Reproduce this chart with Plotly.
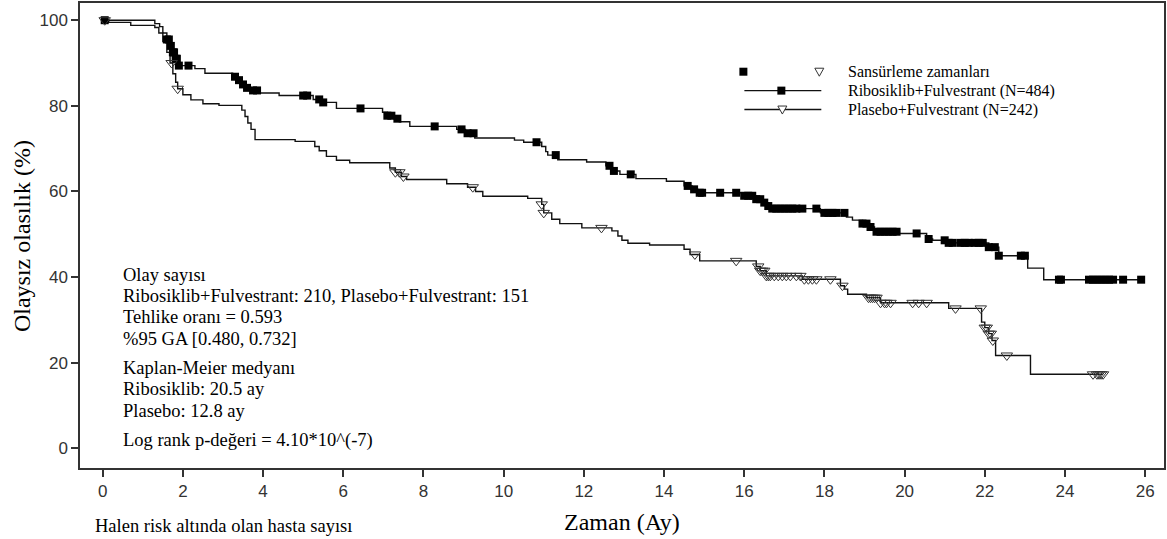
import numpy as np
import plotly.graph_objects as go

# ---------------- data ----------------
ribo_t = [0, 1.3, 1.42, 1.5, 1.6, 1.68, 1.75, 1.82, 1.87, 2.3, 2.55, 3.24, 3.35, 3.45, 3.55,
          3.7, 3.87, 4.4, 5.25, 5.45, 5.83, 6.98, 7.1, 7.25, 7.4, 7.66, 8.83, 9.05, 9.28,
          10.27, 10.5, 10.95, 11.05, 11.1, 11.35, 12.07, 12.55, 12.7, 12.9, 13.3, 14.06,
          14.5, 14.7, 14.85, 15.95, 16.3, 16.45, 16.6, 16.7, 17.9, 18.55, 18.7, 18.95,
          19.1, 19.25, 19.87, 20.55, 20.7, 21.1, 22.1, 22.35, 23.07, 23.47, 25.98]
ribo_s = [100, 99.2, 98.5, 97.0, 95.5, 94.0, 92.5, 91.0, 89.4, 88.7, 87.6, 86.8, 86.0, 85.0, 84.2,
          83.6, 83.0, 82.4, 81.5, 80.8, 79.4, 78.5, 77.7, 77.0, 76.3, 75.2, 74.5, 73.6, 72.5,
          72.0, 71.5, 70.5, 69.3, 68.5, 67.4, 66.9, 66.0, 64.8, 64.0, 63.0, 62.4,
          61.3, 60.5, 59.7, 59.0, 58.2, 57.4, 56.6, 56.0, 55.0, 54.0, 53.3, 52.5,
          51.7, 50.6, 50.2, 48.9, 48.6, 48.0, 47.0, 45.0, 42.1, 39.4, 39.4]
ribo_cens = [0.05, 1.6, 1.65, 1.7, 1.75, 1.78, 1.82, 1.85, 1.9, 2.14, 3.3, 3.4, 3.5, 3.6, 3.75,
             3.85, 5.0, 5.1, 5.4, 5.5, 6.43, 7.1, 7.2, 7.35, 8.28, 8.95, 9.1, 9.25, 10.82,
             11.3, 12.64, 12.75, 13.17, 14.59, 14.75, 14.89, 14.95, 15.4, 15.8, 16.0, 16.1,
             16.2, 16.3, 16.4, 16.5, 16.6, 16.7, 16.8, 16.9, 17.0, 17.1, 17.2, 17.3, 17.45,
             17.8, 18.0, 18.1, 18.2, 18.3, 18.5, 18.95, 19.05, 19.15, 19.3, 19.4, 19.5, 19.6,
             19.7, 19.8, 20.3, 20.6, 21.0, 21.1, 21.2, 21.4, 21.5, 21.6, 21.75, 21.85, 21.95,
             22.1, 22.25, 22.35, 22.9, 23.0, 23.85, 23.9, 24.6, 24.7, 24.8, 24.9, 25.0, 25.1,
             25.2, 25.45, 25.9]

plac_t = [0, 0.15, 0.7, 1.3, 1.4, 1.5, 1.6, 1.68, 1.75, 1.82, 1.87, 2.0, 2.2, 2.5, 2.9, 3.47,
          3.55, 3.62, 3.7, 3.8, 4.8, 5.29, 5.4, 5.58, 5.83, 6.16, 7.16, 7.3, 7.45, 7.58, 8.58,
          9.1, 9.3, 9.48, 10.6, 10.95, 11.0, 11.2, 11.4, 11.95, 12.7, 12.85, 12.95, 13.1,
          13.64, 14.5, 14.65, 14.89, 16.3, 16.4, 16.55, 17.45, 18.4, 18.5, 18.58, 19.05,
          19.4, 21.1, 21.92, 22.0, 22.1, 22.18, 22.27, 23.14, 24.95]
plac_s = [100, 99.5, 98.8, 98.3, 97.0, 95.0, 92.5, 90.0, 87.5, 85.5, 84.0, 82.6, 81.4, 80.5, 80.1, 79.0,
          77.5, 76.0, 74.5, 72.1, 71.7, 70.5, 69.5, 68.2, 67.3, 66.7, 65.5, 64.5, 63.5, 62.8, 61.8,
          61.0, 60.0, 58.9, 58.4, 57.0, 55.0, 53.5, 52.5, 51.5, 50.8, 49.6, 48.6, 47.9,
          47.5, 46.5, 45.3, 43.8, 42.5, 41.5, 40.3, 39.5, 38.0, 37.2, 36.0, 35.2,
          34.0, 32.7, 29.5, 28.2, 26.8, 25.2, 21.7, 17.3, 17.3]
plac_cens = [0.05, 1.72, 1.87, 7.3, 7.4, 7.5, 9.23, 10.95, 11.0, 12.44, 14.77, 15.8, 16.35, 16.4,
             16.45, 16.5, 16.55, 16.6, 16.65, 16.75, 16.85, 16.95, 17.05, 17.15, 17.3, 17.4,
             17.5, 17.6, 17.7, 17.8, 18.15, 18.45, 19.1, 19.15, 19.2, 19.25, 19.3, 19.4, 19.5,
             19.55, 19.65, 20.2, 20.35, 20.55, 21.27, 21.9, 22.0, 22.05, 22.1, 22.15, 22.2,
             22.55, 24.7, 24.8, 24.85, 24.9, 24.95]

x_ticks = [0, 2, 4, 6, 8, 10, 12, 14, 16, 18, 20, 22, 24, 26]
y_ticks = [0, 20, 40, 60, 80, 100]

legend_labels = ["Sansürleme zamanları", "Ribosiklib+Fulvestrant (N=484)", "Plasebo+Fulvestrant (N=242)"]
stat_lines = [
    "Olay sayısı",
    "Ribosiklib+Fulvestrant: 210, Plasebo+Fulvestrant: 151",
    "Tehlike oranı = 0.593",
    "%95 GA [0.480, 0.732]",
    "Kaplan-Meier medyanı",
    "Ribosiklib: 20.5 ay",
    "Plasebo: 12.8 ay",
    "Log rank p-değeri = 4.10*10^(-7)",
]


def step_value(times, surv, t):
    times = np.asarray(times)
    idx = np.searchsorted(times, t, side="right") - 1
    return np.asarray(surv)[idx]


# ---------------- layout geometry ----------------
W, H = 1167, 539
ML, MR, MT, MB = 80, 2, 1, 71
PW, PH = W - ML - MR, H - MT - MB

def px(xp):
    return (xp - ML) / PW

def py(yp):
    return (H - MB - yp) / PH

SERIF = "Liberation Serif, Times New Roman, serif"
SANS = "Liberation Sans, Arial, sans-serif"

fig = go.Figure()

fig.add_trace(go.Scatter(x=ribo_t, y=ribo_s, mode="lines", line=dict(color="#111", width=1.4, shape="hv"),
                         showlegend=False, hoverinfo="skip"))
fig.add_trace(go.Scatter(x=plac_t, y=plac_s, mode="lines", line=dict(color="#111", width=1.4, shape="hv"),
                         showlegend=False, hoverinfo="skip"))
fig.add_trace(go.Scatter(x=ribo_cens, y=step_value(ribo_t, ribo_s, ribo_cens), mode="markers",
                         marker=dict(symbol="square", size=8, color="#000"), showlegend=False))
fig.add_trace(go.Scatter(x=plac_cens, y=step_value(plac_t, plac_s, plac_cens), mode="markers",
                         marker=dict(symbol="triangle-down-open", size=10, color="#333", line=dict(width=1)),
                         showlegend=False))

shapes = []
rows_y = [70, 89, 108]
shapes.append(dict(type="rect", xref="paper", yref="paper", xsizemode="pixel", ysizemode="pixel",
                   xanchor=px(744), yanchor=py(rows_y[0]), x0=-4, x1=4, y0=-4, y1=4,
                   fillcolor="#000", line=dict(width=0)))
shapes.append(dict(type="path", xref="paper", yref="paper", xsizemode="pixel", ysizemode="pixel",
                   xanchor=px(820), yanchor=py(rows_y[0]), path="M-4.5,3.5 L4.5,3.5 L0,-4.5 Z",
                   line=dict(color="#333", width=1)))
shapes.append(dict(type="line", xref="paper", yref="paper", x0=px(745), x1=px(822),
                   y0=py(rows_y[1]), y1=py(rows_y[1]), line=dict(color="#111", width=1.4)))
shapes.append(dict(type="rect", xref="paper", yref="paper", xsizemode="pixel", ysizemode="pixel",
                   xanchor=px(782), yanchor=py(rows_y[1]), x0=-4, x1=4, y0=-4, y1=4,
                   fillcolor="#000", line=dict(width=0)))
shapes.append(dict(type="line", xref="paper", yref="paper", x0=px(745), x1=px(822),
                   y0=py(rows_y[2]), y1=py(rows_y[2]), line=dict(color="#111", width=1.4)))
shapes.append(dict(type="path", xref="paper", yref="paper", xsizemode="pixel", ysizemode="pixel",
                   xanchor=px(783), yanchor=py(rows_y[2]), path="M-4.5,3.5 L4.5,3.5 L0,-4.5 Z",
                   fillcolor="#fff", line=dict(color="#333", width=1)))

annotations = []
for lab, ry in zip(legend_labels, rows_y):
    annotations.append(dict(text=lab, xref="paper", yref="paper", x=px(847), y=py(ry),
                            xanchor="left", yanchor="middle", showarrow=False,
                            font=dict(family=SERIF, size=16, color="#000")))

stat_y = [274, 295, 316, 338, 368, 389, 411, 440]
for txt, sy in zip(stat_lines, stat_y):
    annotations.append(dict(text=txt, xref="paper", yref="paper", x=px(121), y=py(sy),
                            xanchor="left", yanchor="middle", showarrow=False,
                            font=dict(family=SERIF, size=18.5, color="#000")))

annotations.append(dict(text="Zaman (Ay)", xref="paper", yref="paper", x=0.5, y=py(522),
                        xanchor="center", yanchor="middle", showarrow=False,
                        font=dict(family=SERIF, size=24, color="#000")))
annotations.append(dict(text="Olaysız olasılık (%)", xref="paper", yref="paper", x=px(22), y=py(235),
                        xanchor="center", yanchor="middle", textangle=-90, showarrow=False,
                        font=dict(family=SERIF, size=24, color="#000")))
annotations.append(dict(text="Halen risk altında olan hasta sayısı", xref="paper", yref="paper",
                        x=px(93), y=py(538), xanchor="left", yanchor="bottom", showarrow=False,
                        font=dict(family=SERIF, size=18.5, color="#000")))

fig.update_layout(
    width=W, height=H,
    margin=dict(l=ML, r=MR, t=MT, b=MB),
    plot_bgcolor="#fff", paper_bgcolor="#fff",
    shapes=shapes, annotations=annotations,
    showlegend=False,
    xaxis=dict(range=[-0.566, 26.47], tickvals=x_ticks, ticktext=[str(v) for v in x_ticks],
               showgrid=False, zeroline=False, showline=True, linecolor="#333", linewidth=1.5,
               mirror=True, ticks="outside", ticklen=7, tickwidth=1.5, tickcolor="#333",
               tickfont=dict(family=SANS, size=17, color="#333")),
    yaxis=dict(range=[-4.58, 104.02], tickvals=y_ticks, ticktext=[str(v) for v in y_ticks],
               showgrid=False, zeroline=False, showline=True, linecolor="#333", linewidth=1.5,
               mirror=True, ticks="outside", ticklen=7, tickwidth=1.5, tickcolor="#333",
               tickfont=dict(family=SANS, size=17, color="#333")),
)

fig.write_html("out.html")
